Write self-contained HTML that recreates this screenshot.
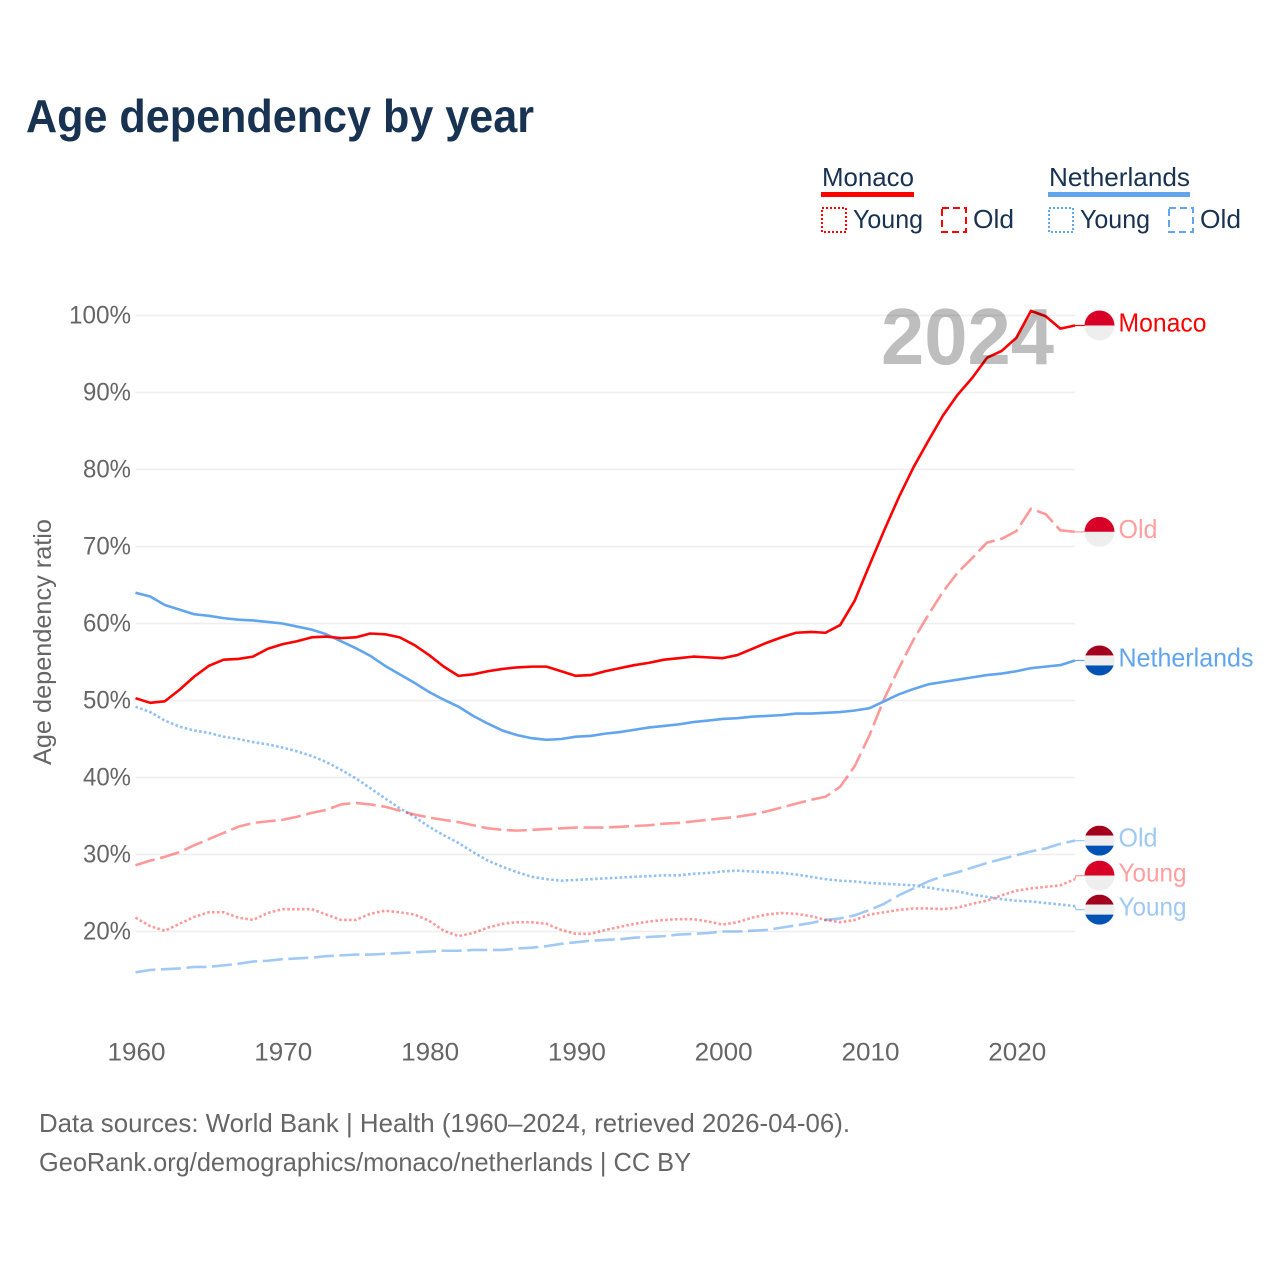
<!DOCTYPE html>
<html>
<head>
<meta charset="utf-8">
<title>Age dependency by year</title>
<style>
html,body{margin:0;padding:0;background:#fff;}
svg{display:block;}
text{font-family:"Liberation Sans",sans-serif;}
</style>
</head>
<body>
<svg id="chart" xmlns="http://www.w3.org/2000/svg" width="1280" height="1280" viewBox="0 0 1280 1280">
  <rect x="0" y="0" width="1280" height="1280" fill="#fff"/>
  <text x="26" y="132" font-size="46" font-weight="700" fill="#183252" textLength="508" lengthAdjust="spacingAndGlyphs">Age dependency by year</text>

  <g>
    <g>
      <text x="822" y="186" font-size="26" fill="#183252" textLength="92" lengthAdjust="spacingAndGlyphs">Monaco</text>
      <rect x="821" y="192" width="93" height="5" fill="#ff0000"/>
      <rect x="822" y="208" width="24" height="24" fill="none" stroke="#ff0000" stroke-width="2" stroke-dasharray="2,2"/>
      <text x="853" y="228" font-size="26" fill="#183252" textLength="70" lengthAdjust="spacingAndGlyphs">Young</text>
      <rect x="942" y="208" width="24" height="24" fill="none" stroke="#ff0000" stroke-width="2" stroke-dasharray="7,4"/>
      <text x="973" y="228" font-size="26" fill="#183252" textLength="41" lengthAdjust="spacingAndGlyphs">Old</text>
    </g>
    <g>
      <text x="1049" y="186" font-size="26" fill="#183252" textLength="141" lengthAdjust="spacingAndGlyphs">Netherlands</text>
      <rect x="1048" y="192" width="142" height="5" fill="#62a5ef"/>
      <rect x="1049" y="208" width="24" height="24" fill="none" stroke="#62a5ef" stroke-width="2" stroke-dasharray="2,2"/>
      <text x="1080" y="228" font-size="26" fill="#183252" textLength="70" lengthAdjust="spacingAndGlyphs">Young</text>
      <rect x="1169" y="208" width="24" height="24" fill="none" stroke="#62a5ef" stroke-width="2" stroke-dasharray="7,4"/>
      <text x="1200" y="228" font-size="26" fill="#183252" textLength="41" lengthAdjust="spacingAndGlyphs">Old</text>
    </g>
  </g>

  <g id="grid"></g>
  <g id="yticks"></g>
  <g id="xticks"></g>
  <text transform="translate(51,642) rotate(-90)" text-anchor="middle" font-size="25" fill="#666" textLength="246" lengthAdjust="spacingAndGlyphs">Age dependency ratio</text>

  <g id="lines"></g>
  <text x="881" y="364" font-size="80" font-weight="700" fill="#bebebe" textLength="173" lengthAdjust="spacingAndGlyphs" style="mix-blend-mode:multiply">2024</text>
  <g id="ends"></g>

  <text x="39" y="1132" font-size="26" fill="#666" textLength="811" lengthAdjust="spacingAndGlyphs">Data sources: World Bank | Health (1960–2024, retrieved 2026-04-06).</text>
  <text x="39" y="1171" font-size="26" fill="#666" textLength="652" lengthAdjust="spacingAndGlyphs">GeoRank.org/demographics/monaco/netherlands | CC BY</text>
</svg>

<script>
const startYear = 1960;
const yTickValues = [20, 30, 40, 50, 60, 70, 80, 90, 100];
const xTickValues = [1960, 1970, 1980, 1990, 2000, 2010, 2020];

const monacoTotal = [50.3,49.7,49.9,51.4,53.1,54.5,55.3,55.4,55.7,56.7,57.3,57.7,58.2,58.3,58.1,58.2,58.7,58.6,58.2,57.2,55.9,54.4,53.2,53.4,53.8,54.1,54.3,54.4,54.4,53.8,53.2,53.3,53.8,54.2,54.6,54.9,55.3,55.5,55.7,55.6,55.5,55.9,56.7,57.5,58.2,58.8,58.9,58.8,59.8,63.0,67.6,72.1,76.4,80.3,83.7,87.0,89.7,91.9,94.5,95.4,97.1,100.6,99.9,98.3,98.7];
const monacoOld = [28.6,29.2,29.7,30.3,31.2,32.0,32.8,33.6,34.1,34.3,34.5,34.9,35.4,35.8,36.5,36.7,36.5,36.2,35.7,35.2,34.8,34.5,34.2,33.8,33.4,33.2,33.1,33.2,33.3,33.4,33.5,33.5,33.5,33.6,33.7,33.8,34.0,34.1,34.3,34.5,34.7,34.9,35.2,35.6,36.1,36.6,37.1,37.5,38.8,41.5,45.5,50.2,54.2,57.9,61.1,64.1,66.6,68.5,70.5,71.0,72.0,74.9,74.2,72.1,71.9];
const monacoYoung = [21.8,20.7,20.1,21.0,21.9,22.5,22.5,21.8,21.5,22.4,22.9,22.9,22.9,22.2,21.5,21.5,22.3,22.7,22.5,22.2,21.4,20.1,19.4,19.8,20.5,21.0,21.2,21.2,21.0,20.2,19.7,19.7,20.2,20.6,21.0,21.3,21.5,21.6,21.6,21.3,20.9,21.2,21.8,22.2,22.4,22.3,22.0,21.5,21.2,21.5,22.2,22.5,22.8,23.0,23.0,22.9,23.1,23.6,24.0,24.7,25.3,25.6,25.8,26.0,26.8];
const netherlandsTotal = [64.0,63.5,62.4,61.8,61.2,61.0,60.7,60.5,60.4,60.2,60.0,59.6,59.2,58.6,57.7,56.8,55.8,54.5,53.4,52.3,51.1,50.1,49.2,48.0,47.0,46.1,45.5,45.1,44.9,45.0,45.3,45.4,45.7,45.9,46.2,46.5,46.7,46.9,47.2,47.4,47.6,47.7,47.9,48.0,48.1,48.3,48.3,48.4,48.5,48.7,49.0,49.9,50.8,51.5,52.1,52.4,52.7,53.0,53.3,53.5,53.8,54.2,54.4,54.6,55.2];
const netherlandsOld = [14.7,15.0,15.1,15.2,15.4,15.4,15.6,15.8,16.1,16.2,16.4,16.5,16.6,16.8,16.9,17.0,17.0,17.1,17.2,17.3,17.4,17.5,17.5,17.6,17.6,17.6,17.8,17.9,18.1,18.4,18.6,18.8,18.9,19.0,19.2,19.3,19.4,19.6,19.7,19.8,20.0,20.0,20.1,20.2,20.5,20.8,21.1,21.5,21.7,22.1,22.8,23.6,24.7,25.6,26.5,27.2,27.7,28.3,28.9,29.4,29.9,30.4,30.8,31.4,31.8];
const netherlandsYoung = [49.2,48.5,47.4,46.6,46.1,45.8,45.3,45.0,44.6,44.3,43.9,43.4,42.8,42.0,41.0,39.9,38.6,37.3,36.0,34.9,33.6,32.5,31.5,30.3,29.2,28.4,27.7,27.1,26.8,26.6,26.7,26.8,26.9,27.0,27.1,27.2,27.3,27.3,27.5,27.6,27.8,27.9,27.8,27.7,27.6,27.4,27.1,26.8,26.6,26.5,26.3,26.2,26.1,26.0,25.7,25.4,25.2,24.8,24.5,24.2,24.0,23.9,23.7,23.5,23.3];

const NS = 'http://www.w3.org/2000/svg';
const xScale = function (year) { return 135.5 + (year - startYear) * 14.68; };
const yScale = function (value) { return 931.5 - (value - 20) * 7.7; };

function make(tag, attrs, parent, content) {
  const el = document.createElementNS(NS, tag);
  Object.keys(attrs).forEach(function (k) { el.setAttribute(k, attrs[k]); });
  if (content !== undefined) el.textContent = content;
  parent.appendChild(el);
  return el;
}

const gridLayer = document.getElementById('grid');
const yTickLayer = document.getElementById('yticks');
const xTickLayer = document.getElementById('xticks');
const lineLayer = document.getElementById('lines');
const endLayer = document.getElementById('ends');
const lastX = xScale(2024);

yTickValues.forEach(function (v) {
  const gridline = make('line', {x1: xScale(startYear), x2: lastX, y1: yScale(v), y2: yScale(v), stroke: '#eeeeee', 'stroke-width': 1.5}, gridLayer);
  
  
  const label = make('text', {x: 131, y: yScale(v) + 8, 'text-anchor': 'end', 'font-size': 25, fill: '#666', textLength: v === 100 ? 62 : 48, lengthAdjust: 'spacingAndGlyphs'}, yTickLayer, v + '%');
  
  
});

xTickValues.forEach(function (yr) {
  const label = make('text', {x: xScale(yr) + 1, y: 1060.5, 'text-anchor': 'middle', 'font-size': 25, fill: '#666', textLength: 58, lengthAdjust: 'spacingAndGlyphs'}, xTickLayer, String(yr));
  
  
});

const DOTTED = '2.6,2.3';
const DASHED = '20,5.6';
const series = [
  {key: 'netherlands-young', values: netherlandsYoung, color: '#62a5ef', soft: '#a0c8f4', dash: DOTTED, width: 2.6, opacity: 0.7, label: 'Young', flag: 'nl', textW: 68},
  {key: 'netherlands-old', values: netherlandsOld, color: '#62a5ef', soft: '#a0c8f4', dash: DASHED, width: 2.6, opacity: 0.6, label: 'Old', flag: 'nl', textW: 39},
  {key: 'monaco-young', values: monacoYoung, color: '#ff0000', soft: '#ff9f9f', dash: DOTTED, width: 2.6, opacity: 0.4, label: 'Young', flag: 'mc', textW: 68},
  {key: 'monaco-old', values: monacoOld, color: '#ff0000', soft: '#ff9f9f', dash: DASHED, width: 2.6, opacity: 0.4, label: 'Old', flag: 'mc', textW: 39},
  {key: 'netherlands-total', values: netherlandsTotal, color: '#62a5ef', soft: '#62a5ef', dash: '', width: 2.6, opacity: 1, label: 'Netherlands', flag: 'nl', textW: 135},
  {key: 'monaco-total', values: monacoTotal, color: '#ff0000', soft: '#ff0000', dash: '', width: 2.6, opacity: 1, label: 'Monaco', flag: 'mc', textW: 88}
];

series.forEach(function (s) {
  const d = s.values.map(function (v, i) {
    return (i ? 'L' : 'M') + xScale(startYear + i).toFixed(2) + ',' + yScale(v).toFixed(2);
  }).join(' ');
  const path = make('path', {d: d, fill: 'none', stroke: s.color, 'stroke-width': s.width, 'stroke-opacity': s.opacity, 'stroke-linejoin': 'round'}, lineLayer);
  if (s.dash) path.setAttribute('stroke-dasharray', s.dash);
  
  
});

/* dodge end labels so the flags do not overlap */
const MIN_GAP = 34;
const placed = series.map(function (s) {
  const endY = yScale(s.values[s.values.length - 1]);
  return {s: s, endY: endY, y: endY};
}).sort(function (a, b) { return a.endY - b.endY; });
for (let pass = 0; pass < 4; pass++) {
  for (let i = 1; i < placed.length; i++) {
    const gap = placed[i].y - placed[i - 1].y;
    if (gap < MIN_GAP) {
      const push = (MIN_GAP - gap) / 2;
      placed[i - 1].y -= push;
      placed[i].y += push;
    }
  }
}

placed.forEach(function (p, idx) {
  const s = p.s;
  const flagX = 1099.5;
  const connector = make('path', {d: 'M' + lastX + ',' + p.endY + ' L' + (lastX + 1) + ',' + p.y + ' L' + (flagX - 14) + ',' + p.y, fill: 'none', stroke: s.soft, 'stroke-width': 1.2}, endLayer);
  
  

  const clipId = 'flag-clip-' + idx;
  const clip = make('clipPath', {id: clipId}, endLayer);
  make('circle', {cx: flagX, cy: p.y, r: 15}, clip);
  const flag = make('g', {'clip-path': 'url(#' + clipId + ')'}, endLayer);
  
  
  if (s.flag === 'mc') {
    make('rect', {x: flagX - 15, y: p.y - 15, width: 30, height: 15, fill: '#d80027'}, flag);
    make('rect', {x: flagX - 15, y: p.y, width: 30, height: 15, fill: '#eeeeee'}, flag);
  } else {
    make('rect', {x: flagX - 15, y: p.y - 15, width: 30, height: 10, fill: '#a2001d'}, flag);
    make('rect', {x: flagX - 15, y: p.y - 5, width: 30, height: 10, fill: '#eeeeee'}, flag);
    make('rect', {x: flagX - 15, y: p.y + 5, width: 30, height: 10, fill: '#0052b4'}, flag);
  }

  const label = make('text', {x: 1118.5, y: p.y + 6, 'font-size': 26, fill: s.soft, textLength: s.textW, lengthAdjust: 'spacingAndGlyphs'}, endLayer, s.label);
  
  
});
</script>
</body>
</html>
